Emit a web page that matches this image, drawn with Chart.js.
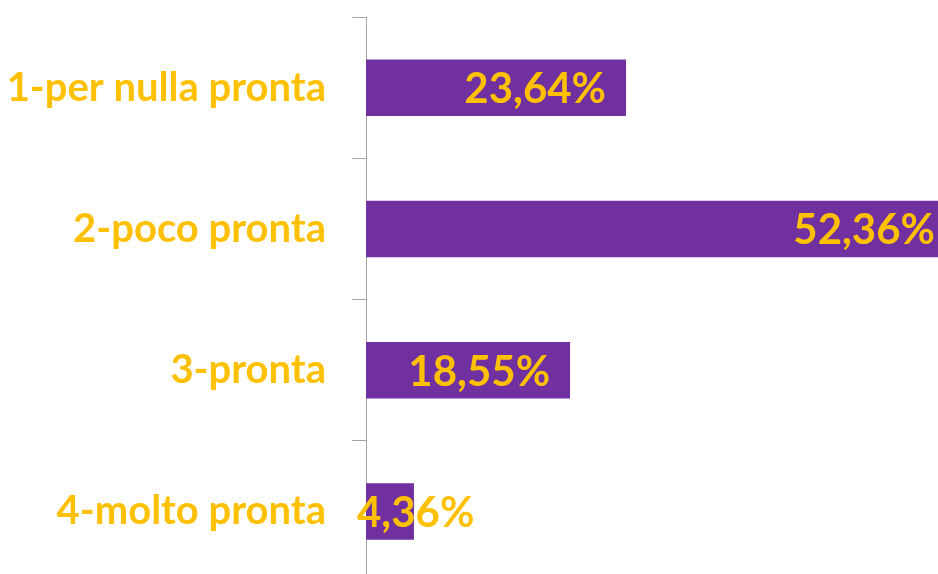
<!DOCTYPE html>
<html>
<head>
<meta charset="utf-8">
<script src="https://cdn.jsdelivr.net/npm/chart.js@4.4.1/dist/chart.umd.min.js"></script>
<style>
  html, body { margin: 0; padding: 0; background: #fff; overflow: hidden; }
  .contenedor { width: 938px; height: 600px; position: relative; }
</style>
</head>
<body>
<div class="contenedor"><canvas id="grafico"></canvas></div>
<script>
// datos del grafico
const categorias = ["1-per nulla pronta", "2-poco pronta", "3-pronta", "4-molto pronta"];
const valores = [23.64, 52.36, 18.55, 4.36];

const viola = "#7030A0";
const oro = "#FFC000";
const fuente = "Lato, 'Open Sans', sans-serif";

// etiquetas dentro del final de la barra
const etiquetas = {
  id: "etiquetas",
  afterDatasetsDraw(chart) {
    const ctx = chart.ctx;
    const meta = chart.getDatasetMeta(0);
    const area = chart.chartArea;
    ctx.save();
    ctx.font = "bold 42px " + fuente;
    ctx.fillStyle = oro;
    ctx.textBaseline = "middle";
    ctx.textAlign = "left";
    meta.data.forEach((bar, i) => {
      let texto = valores[i].toFixed(2).replace(".", ",") + "%";
      let ancho = ctx.measureText(texto).width;
      // si la barra sale del area, se pega al borde
      let derecha = bar.x > area.right ? area.right - 3 : bar.x - 20;
      let x = Math.max(derecha - ancho, area.left - 9);
      ctx.fillText(texto, x, bar.y + 2);
    });
    ctx.restore();
  }
};

new Chart(document.getElementById("grafico"), {
  type: "bar",
  data: {
    labels: categorias,
    datasets: [{
      data: valores,
      backgroundColor: viola,
      categoryPercentage: 1,
      barPercentage: 0.4
    }]
  },
  options: {
    indexAxis: "y",
    responsive: true,
    maintainAspectRatio: false,
    animation: false,
    layout: { padding: { top: 17, bottom: 18, right: 0, left: 0 } },
    plugins: {
      legend: { display: false },
      tooltip: { enabled: false }
    },
    scales: {
      x: {
        display: false,
        min: 0,
        max: 52
      },
      y: {
        afterFit: s => {
          s.width = 366;
          s.paddingTop = 0;
          s.paddingBottom = 0;
        },
        border: { display: true, color: "#a6a6a6", width: 1 },
        grid: {
          drawOnChartArea: false,
          drawTicks: true,
          tickLength: 14,
          color: "#a6a6a6"
        },
        ticks: {
          color: oro,
          padding: 26,
          font: { family: fuente, size: 40, weight: "bold" }
        }
      }
    }
  },
  plugins: [etiquetas]
});
</script>
</body>
</html>
